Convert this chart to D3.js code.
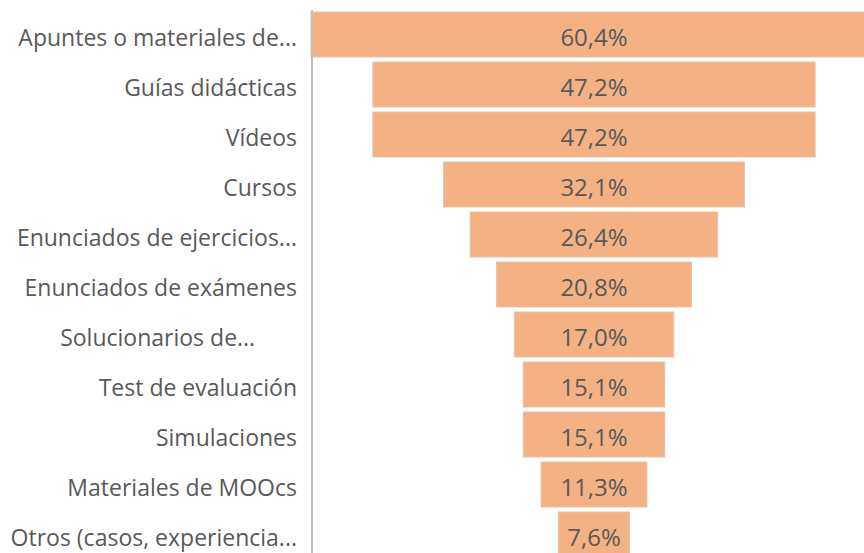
<!DOCTYPE html>
<html>
<head>
<meta charset="utf-8">
<script src="https://cdn.jsdelivr.net/npm/d3@7"></script>
<style>
  body { margin: 0; background: #fff; overflow: hidden; }
  svg text { font-family: "Open Sans", "Noto Sans", sans-serif; fill: #595959; }
</style>
</head>
<body>
<svg id="chart" width="864" height="553"></svg>
<script>
const categories = [
  'Apuntes o materiales de...',
  'Guías didácticas',
  'Vídeos',
  'Cursos',
  'Enunciados de ejercicios...',
  'Enunciados de exámenes',
  'Solucionarios de...\u00a0\u00a0\u00a0\u00a0\u00a0\u00a0\u00a0',
  'Test de evaluación',
  'Simulaciones',
  'Materiales de MOOcs',
  'Otros (casos, experiencia...'
];
const values = [60.4, 47.2, 47.2, 32.1, 26.4, 20.8, 17.0, 15.1, 15.1, 11.3, 7.6];
const valueLabels = ['60,4%', '47,2%', '47,2%', '32,1%', '26,4%', '20,8%', '17,0%', '15,1%', '15,1%', '11,3%', '7,6%'];

const svg = d3.select('svg#chart');
const axisX = 312;
const centerX = 594;

const rows = categories.map((c, i) => ({ cat: c, value: values[i], label: valueLabels[i] }));

const xScale = d3.scaleLinear().domain([0, d3.max(values)]).range([0, 566]);
const yScale = d3.scaleBand()
    .domain(categories)
    .range([9.5, 559.5])
    .paddingInner(0.1)
    .paddingOuter(0.05);

const g = svg.append('g');

// funnel bars, centred on centerX
g.selectAll('rect.bar')
  .data(rows)
  .join('rect')
    .attr('class', 'bar')
    .attr('x', d => centerX - xScale(d.value) / 2)
    .attr('y', d => yScale(d.cat))
    .attr('width', d => xScale(d.value))
    .attr('height', yScale.bandwidth())
    .attr('fill', '#F4B183')
    .attr('stroke', '#e2c3ab')
    .attr('stroke-width', 1);

g.selectAll('text.value')
  .data(rows)
  .join('text')
    .attr('class', 'value')
    .attr('x', centerX)
    .attr('y', d => yScale(d.cat) + yScale.bandwidth() / 2 + 11.5)
    .attr('text-anchor', 'middle')
    .style('font-size', '24px')
    .text(d => d.label);

// category axis on the left
const yAxis = g.append('g')
    .attr('transform', `translate(${axisX},0)`)
    .call(d3.axisLeft(yScale).tickSize(0).tickPadding(15));
yAxis.select('.domain').attr('stroke', '#bfbfbf').attr('stroke-width', 2)
    .attr('d', `M0,10V553`);
yAxis.selectAll('.tick text')
    .attr('dy', null)
    .attr('y', 11.2)
    .style('font-size', '23px')
    .style('white-space', 'pre')
    .attr('fill', '#595959')
    .attr('font-family', null);
</script>
</body>
</html>
